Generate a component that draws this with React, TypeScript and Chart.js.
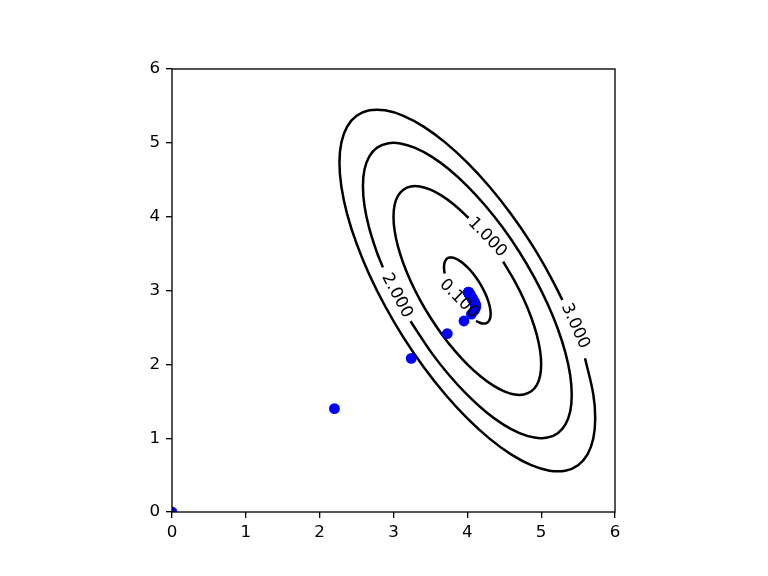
import React, { useEffect, useRef } from "react";
import { Chart, registerables } from "chart.js";

Chart.register(...registerables);

// Gradient-descent iterates (scatter)
const pathX = [0, 2.2, 3.24, 3.728, 3.954, 4.055, 4.097, 4.112, 4.114, 4.11, 4.104, 4.097, 4.09, 4.084, 4.077, 4.072, 4.066, 4.061, 4.057, 4.052, 4.048, 4.045, 4.041, 4.038, 4.035, 4.032, 4.03, 4.028, 4.026, 4.024, 4.022, 4.02, 4.019, 4.017, 4.016, 4.015, 4.014];
const pathY = [0, 1.4, 2.08, 2.416, 2.587, 2.679, 2.732, 2.766, 2.791, 2.81, 2.826, 2.84, 2.853, 2.864, 2.874, 2.884, 2.893, 2.901, 2.909, 2.916, 2.922, 2.928, 2.934, 2.939, 2.943, 2.948, 2.952, 2.955, 2.959, 2.962, 2.965, 2.967, 2.97, 2.972, 2.974, 2.976, 2.978];

// Contour level 3.000
const c3X = [5.287, 5.113, 4.866, 4.592, 4.301, 4.0, 3.699, 3.408, 3.134, 2.887, 2.673, 2.5, 2.372, 2.294, 2.268, 2.294, 2.372, 2.5, 2.673, 2.887, 3.134, 3.408, 3.699, 4.0, 4.301, 4.592, 4.866, 5.113, 5.327, 5.5, 5.628, 5.706, 5.732, 5.706, 5.594];
const c3Y = [2.872, 3.213, 3.634, 4.035, 4.405, 4.732, 5.006, 5.22, 5.366, 5.44, 5.44, 5.366, 5.22, 5.006, 4.732, 4.405, 4.035, 3.634, 3.213, 2.787, 2.366, 1.965, 1.595, 1.268, 0.994, 0.78, 0.634, 0.56, 0.56, 0.634, 0.78, 0.994, 1.268, 1.595, 2.082];

// Contour level 2.000
const c2X = [3.23, 3.516, 3.755, 4.0, 4.245, 4.484, 4.707, 4.909, 5.083, 5.225, 5.329, 5.393, 5.414, 5.393, 5.329, 5.225, 5.083, 4.909, 4.707, 4.484, 4.245, 4.0, 3.755, 3.516, 3.293, 3.091, 2.917, 2.775, 2.671, 2.607, 2.586, 2.607, 2.671, 2.775, 2.856];
const c2Y = [2.584, 2.155, 1.853, 1.586, 1.362, 1.187, 1.068, 1.008, 1.008, 1.068, 1.187, 1.362, 1.586, 1.853, 2.155, 2.482, 2.826, 3.174, 3.518, 3.845, 4.147, 4.414, 4.638, 4.813, 4.932, 4.992, 4.992, 4.932, 4.813, 4.638, 4.414, 4.147, 3.845, 3.518, 3.313];

// Contour level 1.000
const c1X = [4.017, 3.826, 3.658, 3.5, 3.357, 3.234, 3.134, 3.06, 3.015, 3.0, 3.015, 3.06, 3.134, 3.234, 3.357, 3.5, 3.658, 3.826, 4.0, 4.174, 4.342, 4.5, 4.643, 4.766, 4.866, 4.94, 4.985, 5.0, 4.985, 4.94, 4.866, 4.766, 4.643, 4.485];
const c1Y = [3.982, 4.158, 4.282, 4.366, 4.409, 4.409, 4.366, 4.282, 4.158, 4.0, 3.811, 3.598, 3.366, 3.123, 2.877, 2.634, 2.402, 2.189, 2.0, 1.842, 1.718, 1.634, 1.591, 1.591, 1.634, 1.718, 1.842, 2.0, 2.189, 2.402, 2.634, 2.877, 3.123, 3.39];

// Contour level 0.100
const c01X = [4.118, 4.158, 4.203, 4.242, 4.274, 4.297, 4.311, 4.316, 4.311, 4.297, 4.274, 4.242, 4.203, 4.158, 4.108, 4.055, 4.0, 3.945, 3.892, 3.842, 3.797, 3.758, 3.726, 3.703, 3.689, 3.684, 3.689, 3.693];
const c01Y = [2.588, 2.568, 2.554, 2.554, 2.568, 2.595, 2.634, 2.684, 2.743, 2.811, 2.884, 2.961, 3.039, 3.116, 3.189, 3.257, 3.316, 3.366, 3.405, 3.432, 3.446, 3.446, 3.432, 3.405, 3.366, 3.316, 3.257, 3.23];

// Inline contour labels
const labelText = ["3.000", "2.000", "1.000", "0.100"];
const labelX = [5.46, 3.045, 4.27, 3.886];
const labelY = [2.52, 2.93, 3.72, 2.886];
const labelAngle = [66, 62, 46, 45];

const tickValues = [0, 1, 2, 3, 4, 5, 6];

const FONT = "'DejaVu Sans', sans-serif";

const zip = (xs: number[], ys: number[]) => xs.map((x, i) => ({ x, y: ys[i] }));

export default function App() {
  const ref = useRef<HTMLCanvasElement | null>(null);

  useEffect(() => {
    if (!ref.current) return;

    const framePlugin = {
      id: "frame",
      afterDatasetsDraw(chart: any) {
        const { ctx, chartArea, scales } = chart;
        ctx.save();
        ctx.fillStyle = "#000";
        ctx.font = `16.7px ${FONT}`;
        ctx.textAlign = "center";
        ctx.textBaseline = "middle";
        for (let i = 0; i < labelText.length; i++) {
          const px = scales.x.getPixelForValue(labelX[i]);
          const py = scales.y.getPixelForValue(labelY[i]);
          ctx.save();
          ctx.translate(px, py);
          ctx.rotate((labelAngle[i] * Math.PI) / 180);
          ctx.fillText(labelText[i], 0, 0);
          ctx.restore();
        }
        ctx.strokeStyle = "#000";
        ctx.lineWidth = 1.33;
        ctx.strokeRect(chartArea.left, chartArea.top, chartArea.right - chartArea.left, chartArea.bottom - chartArea.top);
        ctx.restore();
      },
    };

    const contour = (xs: number[], ys: number[]) => ({
      type: "scatter" as const,
      data: zip(xs, ys),
      showLine: true,
      borderColor: "#000",
      borderWidth: 2.5,
      pointRadius: 0,
      tension: 0.4,
      fill: false,
      order: 2,
      clip: 0,
    });

    const axisCommon = (pad: number) => ({
      type: "linear" as const,
      min: 0,
      max: 6,
      afterBuildTicks: (scale: any) => {
        scale.ticks = tickValues.map((v) => ({ value: v }));
      },
      ticks: {
        color: "#000",
        font: { family: FONT, size: 16.7 },
        padding: pad,
        callback: (v: any) => String(v),
      },
      grid: {
        display: true,
        drawOnChartArea: false,
        drawTicks: true,
        tickLength: 6,
        color: "#000",
        lineWidth: 1.33,
      },
      border: { display: false },
    });

    const chart = new Chart(ref.current, {
      type: "scatter",
      data: {
        datasets: [
          {
            type: "scatter",
            data: zip(pathX, pathY),
            pointRadius: 5.4,
            pointHoverRadius: 5.4,
            backgroundColor: "#0000ff",
            borderWidth: 0,
            order: 0,
            clip: 0,
          } as any,
          contour(c3X, c3Y),
          contour(c2X, c2Y),
          contour(c1X, c1Y),
          contour(c01X, c01Y),
        ],
      },
      options: {
        animation: false,
        responsive: false,
        devicePixelRatio: 1,
        events: [],
        layout: { padding: { left: 0, top: 69, right: 153, bottom: 0 } },
        plugins: { legend: { display: false }, tooltip: { enabled: false } },
        scales: {
          x: {
            ...axisCommon(5),
            position: "bottom",
            afterFit: (scale: any) => {
              scale.height = 64;
            },
          },
          y: {
            ...axisCommon(6),
            position: "left",
            afterFit: (scale: any) => {
              scale.width = 172;
            },
          },
        },
      } as any,
      plugins: [framePlugin],
    });

    return () => chart.destroy();
  }, []);

  return (
    <div style={{ position: "fixed", left: 0, top: 0, width: 768, height: 576, background: "#fff" }}>
      <canvas ref={ref} width={768} height={576} style={{ width: 768, height: 576 }} />
    </div>
  );
}
